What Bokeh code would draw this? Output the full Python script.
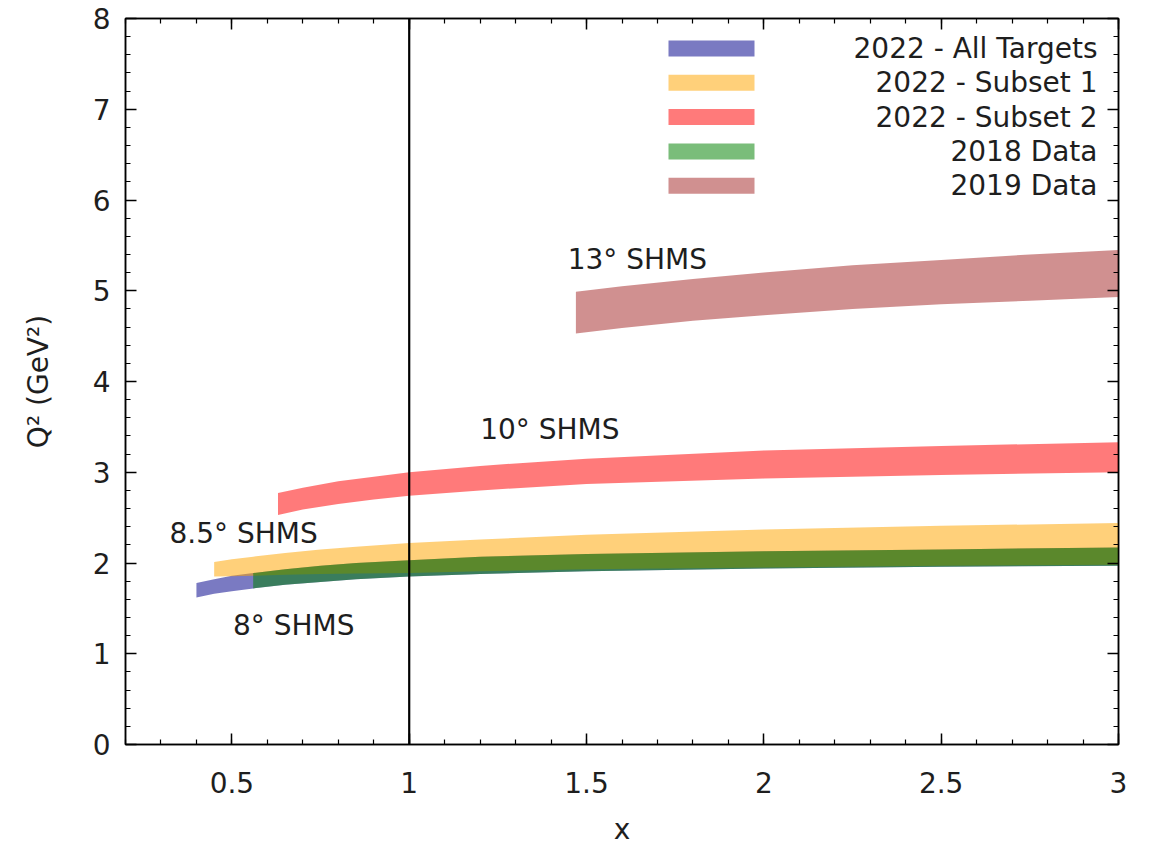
from bokeh.plotting import figure
from bokeh.models import (Span, FixedTicker, LinearAxis, Range1d,
                          ColumnDataSource, BoxAnnotation, Label)
from bokeh.core.properties import value
from bokeh.embed import file_html
from bokeh.resources import INLINE
import numpy as np

FONT = "DejaVu Sans"

# --- kinematic coverage bands: x, lower Q^2, upper Q^2 (GeV^2) ---
# 8 deg SHMS, 2022 all targets
all_x = [0.40, 0.45, 0.50, 0.56, 0.65, 0.75, 0.85, 1.0, 1.2, 1.5, 2.0, 2.5, 3.0]
all_lo = [1.62, 1.66, 1.69, 1.72, 1.76, 1.79, 1.82, 1.85, 1.88, 1.91, 1.94, 1.96, 1.97]
all_hi = [1.78, 1.82, 1.86, 1.89, 1.93, 1.97, 2.00, 2.03, 2.07, 2.10, 2.13, 2.15, 2.17]

# 8.5 deg SHMS, 2022 subset 1
s1_x = [0.45, 0.50, 0.56, 0.65, 0.75, 0.85, 1.0, 1.2, 1.5, 2.0, 2.5, 3.0]
s1_lo = [1.85, 1.855, 1.86, 1.87, 1.88, 1.885, 1.89, 1.91, 1.93, 1.95, 1.97, 1.98]
s1_hi = [2.01, 2.04, 2.07, 2.11, 2.15, 2.18, 2.22, 2.26, 2.31, 2.37, 2.41, 2.44]

# 10 deg SHMS, 2022 subset 2
s2_x = [0.63, 0.70, 0.80, 0.90, 1.0, 1.2, 1.5, 2.0, 2.5, 3.0]
s2_lo = [2.53, 2.59, 2.65, 2.70, 2.74, 2.80, 2.87, 2.93, 2.97, 3.00]
s2_hi = [2.77, 2.83, 2.90, 2.95, 3.00, 3.07, 3.15, 3.24, 3.29, 3.33]

# 8 deg SHMS, 2018 data
d18_x = [0.56, 0.65, 0.75, 0.85, 1.0, 1.2, 1.5, 2.0, 2.5, 3.0]
d18_lo = [1.72, 1.76, 1.79, 1.82, 1.85, 1.88, 1.91, 1.94, 1.96, 1.97]
d18_hi = [1.89, 1.93, 1.97, 2.00, 2.03, 2.07, 2.10, 2.13, 2.15, 2.17]

# 13 deg SHMS, 2019 data
d19_x = [1.47, 1.60, 1.80, 2.00, 2.25, 2.50, 2.75, 3.00]
d19_lo = [4.53, 4.59, 4.67, 4.73, 4.80, 4.85, 4.89, 4.93]
d19_hi = [4.99, 5.05, 5.13, 5.20, 5.28, 5.34, 5.40, 5.45]

series_names = ["2022 - All Targets", "2022 - Subset 1", "2022 - Subset 2",
                "2018 Data", "2019 Data"]
series_colors = ["darkblue", "orange", "red", "green", "brown"]
band_alpha = 0.52

# spectrometer angle labels
angle_text = ["13\u00b0 SHMS", "10\u00b0 SHMS", "8.5\u00b0 SHMS", "8\u00b0 SHMS"]
angle_x = [1.447, 1.20, 0.324, 0.503]
angle_y = [5.34, 3.47, 2.33, 1.31]

# x = 1 reference line
x_line = 1.0

# axes
x_ticks = [0.5, 1.0, 1.5, 2.0, 2.5, 3.0]
x_tick_labels = ["0.5", "1", "1.5", "2", "2.5", "3"]
y_ticks = [0, 1, 2, 3, 4, 5, 6, 7, 8]
y_tick_labels = ["0", "1", "2", "3", "4", "5", "6", "7", "8"]
x_lim = (0.2, 3.0)
y_lim = (0.0, 8.0)

x_minor = [round(v, 2) for v in np.arange(0.2, 3.001, 0.1)]
y_minor = [round(v, 2) for v in np.arange(0.0, 8.001, 0.2)]

TEXT_COLOR = "#1e1e1e"

p = figure(width=1152, height=848, output_backend="svg", toolbar_location=None,
           x_range=Range1d(*x_lim), y_range=Range1d(*y_lim),
           min_border_left=125, min_border_right=34, min_border_top=18,
           min_border_bottom=103)
p.xgrid.visible = False
p.ygrid.visible = False
p.outline_line_color = "black"
p.outline_line_width = 1.5
p.background_fill_color = "white"
p.border_fill_color = "white"

bands = [(all_x, all_lo, all_hi), (s1_x, s1_lo, s1_hi), (s2_x, s2_lo, s2_hi),
         (d18_x, d18_lo, d18_hi), (d19_x, d19_lo, d19_hi)]
for (bx, lo, hi), col in zip(bands, series_colors):
    src = ColumnDataSource(dict(x=bx, lo=lo, hi=hi))
    p.varea(x="x", y1="lo", y2="hi", source=src, fill_color=col,
            fill_alpha=band_alpha)

p.add_layout(Span(location=x_line, dimension="height", line_color="black",
                  line_width=2.2))

p.text(x=angle_x, y=angle_y, text=angle_text, text_font=value(FONT),
       text_font_size="28px", text_baseline="middle", text_align="left",
       text_color=TEXT_COLOR)

# tickers shared by all four sides
def x_ticker():
    return FixedTicker(ticks=x_ticks, minor_ticks=x_minor)

def y_ticker():
    return FixedTicker(ticks=y_ticks, minor_ticks=y_minor)

def style_axis(ax, show_labels):
    ax.axis_line_color = "black"
    ax.axis_line_width = 1.5
    ax.major_tick_line_color = "black"
    ax.minor_tick_line_color = "black"
    ax.major_tick_line_width = 1.5
    ax.minor_tick_line_width = 1.2
    ax.major_tick_in = 11
    ax.major_tick_out = 0
    ax.minor_tick_in = 5
    ax.minor_tick_out = 0
    if show_labels:
        ax.major_label_text_font = FONT
        ax.major_label_text_font_size = "28px"
        ax.major_label_text_color = TEXT_COLOR
        ax.axis_label_text_font = FONT
        ax.axis_label_text_font_size = "28px"
        ax.axis_label_text_font_style = "normal"
        ax.axis_label_text_color = TEXT_COLOR
    else:
        # mirrored ticks only, no labels on the top / right edges
        ax.major_label_overrides = {t: "" for t in ax.ticker.ticks}
        ax.major_label_text_font_size = "1px"
        ax.major_label_standoff = 0

xa = p.xaxis[0]
xa.ticker = x_ticker()
xa.major_label_overrides = dict(zip(x_ticks, x_tick_labels))
xa.axis_label = "x"
style_axis(xa, True)
xa.major_label_standoff = 27
xa.axis_label_standoff = 17

ya = p.yaxis[0]
ya.ticker = y_ticker()
ya.major_label_overrides = dict(zip(y_ticks, y_tick_labels))
ya.axis_label = "Q\u00b2 (GeV\u00b2)"
style_axis(ya, True)
ya.major_label_standoff = 15
ya.axis_label_standoff = 35

top = LinearAxis(ticker=x_ticker())
style_axis(top, False)
p.add_layout(top, "above")
right = LinearAxis(ticker=y_ticker())
style_axis(right, False)
p.add_layout(right, "right")

# legend: swatches on the left, labels right-aligned (screen px from frame)
LEG_SW_LEFT, LEG_SW_RIGHT = 543, 629
LEG_TEXT_RIGHT = 972
LEG_TOP, LEG_PITCH, LEG_SW_H = 696, 34.3, 16
for i, (name, col) in enumerate(zip(series_names, series_colors)):
    yc = LEG_TOP - i * LEG_PITCH
    p.add_layout(BoxAnnotation(
        left=LEG_SW_LEFT, right=LEG_SW_RIGHT,
        bottom=yc - LEG_SW_H / 2, top=yc + LEG_SW_H / 2,
        left_units="screen", right_units="screen",
        bottom_units="screen", top_units="screen",
        fill_color=col, fill_alpha=band_alpha, line_color=None))
    p.add_layout(Label(
        x=LEG_TEXT_RIGHT, y=yc, x_units="screen", y_units="screen",
        text=name, text_align="right", text_baseline="middle",
        text_font=FONT, text_font_size="28px", text_color=TEXT_COLOR))

open("out.html", "w").write(file_html(p, INLINE))
